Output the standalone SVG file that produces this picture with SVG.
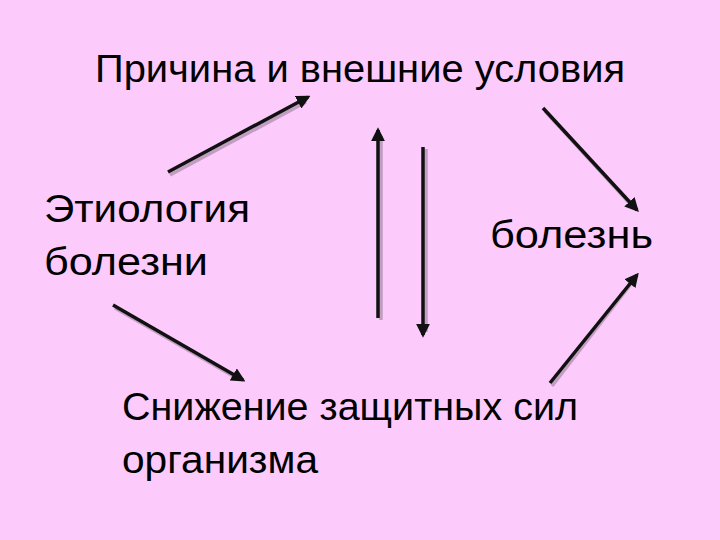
<svg xmlns="http://www.w3.org/2000/svg" width="720" height="540" viewBox="0 0 720 540">
<style>
text{font-family:"Liberation Sans",Arial,sans-serif;font-size:38px;fill:#000}
.a{stroke:#111;stroke-width:3.5;fill:none;marker-end:url(#h)}
.s{stroke:#9a7f9a;stroke-width:3.5;fill:none;opacity:.6}
</style>
<defs><marker id="h" viewBox="0 0 10 10" refX="8" refY="5" markerWidth="4" markerHeight="4" orient="auto"><path d="M0,0 L10,5 L0,10 z" fill="#111"/></marker></defs>
<rect width="720" height="540" fill="#fccbfc"/>
<g id="n1"><text x="95" y="82" textLength="530" lengthAdjust="spacingAndGlyphs">Причина и внешние условия</text></g>
<g id="n2"><text x="44" y="222" textLength="206" lengthAdjust="spacingAndGlyphs">Этиология</text><text x="44" y="275" textLength="164" lengthAdjust="spacingAndGlyphs">болезни</text></g>
<g id="n3"><text x="490" y="248" textLength="163" lengthAdjust="spacingAndGlyphs">болезнь</text></g>
<g id="n4"><text x="122" y="420" textLength="456" lengthAdjust="spacingAndGlyphs">Снижение защитных сил</text><text x="122" y="473" textLength="196" lengthAdjust="spacingAndGlyphs">организма</text></g>
<g id="connectors">
<path class="s" d="M170,175 L306,102 M545,111 L634,208 M381,320 L381,136 M426,149 L426,332 M115,308 L240,380 M552,386 L634,280"/>
<path class="a" d="M168,172 L308,97"/>
<path class="a" d="M543,108 L637,210"/>
<path class="a" d="M378,318 L378,130"/>
<path class="a" d="M423,147 L423,335"/>
<path class="a" d="M113,305 L243,380"/>
<path class="a" d="M550,383 L637,275"/>
</g>
</svg>
